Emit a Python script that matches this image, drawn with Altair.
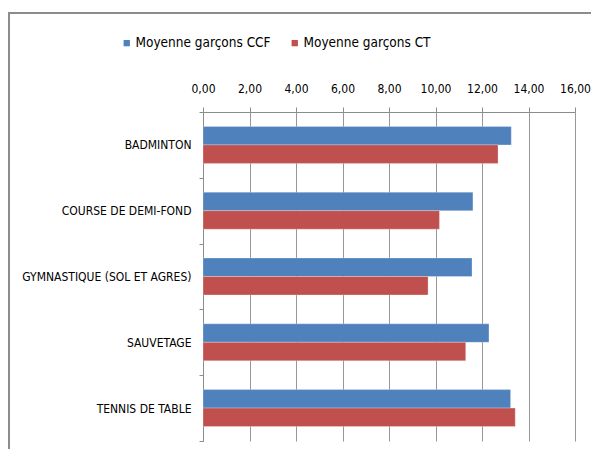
import altair as alt
import pandas as pd

categories = ["BADMINTON", "COURSE DE DEMI-FOND", "GYMNASTIQUE (SOL ET AGRES)", "SAUVETAGE", "TENNIS DE TABLE"]
series = ["Moyenne garçons CCF", "Moyenne garçons CT"]
ccf_values = [13.26, 11.61, 11.57, 12.30, 13.23]
ct_values = [12.69, 10.17, 9.68, 11.30, 13.43]
colors = ["#4F81BD", "#C0504D"]
x_ticks = [0, 2, 4, 6, 8, 10, 12, 14, 16]

rows = []
for c, a, b in zip(categories, ccf_values, ct_values):
    rows.append({"cat": c, "serie": series[0], "val": a})
    rows.append({"cat": c, "serie": series[1], "val": b})
df = pd.DataFrame(rows)

FONT = "DejaVu Sans Condensed, Liberation Sans, sans-serif"
GRAY = "#8C8C8C"

bars = alt.Chart(df).mark_bar(stroke="#FFFFFF", strokeOpacity=0.35, strokeWidth=0.8).encode(
    y=alt.Y("cat:N", sort=categories, title=None,
            scale=alt.Scale(paddingInner=0, paddingOuter=0),
            axis=alt.Axis(orient="left", tickBand="extent", domainColor=GRAY, tickColor=GRAY,
                          tickSize=4, labelPadding=8, labelFontSize=12, labelFont=FONT,
                          labelColor="#000000", grid=False, labelLimit=300)),
    yOffset=alt.YOffset("serie:N", sort=series, scale=alt.Scale(paddingInner=0, paddingOuter=0.78)),
    x=alt.X("val:Q", title=None,
            scale=alt.Scale(domain=[0, 16], nice=False),
            axis=alt.Axis(orient="top", values=x_ticks, grid=True, gridColor=GRAY, gridOpacity=0.9,
                          domainColor=GRAY, tickColor=GRAY, tickSize=5, labelPadding=12,
                          labelFontSize=12, labelFont=FONT, labelColor="#000000",
                          labelFlush=False, labelOverlap=False,
                          labelExpr="replace(format(datum.value, '.2f'), '.', ',')")),
    color=alt.Color("serie:N", sort=series, scale=alt.Scale(domain=series, range=colors),
                    legend=alt.Legend(title=None, orient="none", direction="horizontal",
                                      legendX=-83, legendY=-76, symbolType="square", symbolSize=40,
                                      symbolStrokeWidth=0, labelFont=FONT, labelFontSize=13.5,
                                      labelColor="#000000", columnPadding=17, labelOffset=2)),
)

frame_df = pd.DataFrame({"k": [0]})
left_border = alt.Chart(frame_df).mark_rule(color=GRAY, strokeWidth=2).encode(
    x=alt.value(-194), y=alt.value(-99), y2=alt.value(400))
top_border = alt.Chart(frame_df).mark_rule(color=GRAY, strokeWidth=2).encode(
    x=alt.value(-195), x2=alt.value(500), y=alt.value(-99))

chart = alt.layer(bars, left_border, top_border).properties(
    width=372, height=329,
    autosize=alt.AutoSizeParams(type="none"),
    padding={"left": 195, "top": 104, "right": 16, "bottom": 8},
    background="#FFFFFF",
).configure_view(strokeWidth=0)

chart.save("out.html", embed_options={"renderer": "svg", "actions": False})
